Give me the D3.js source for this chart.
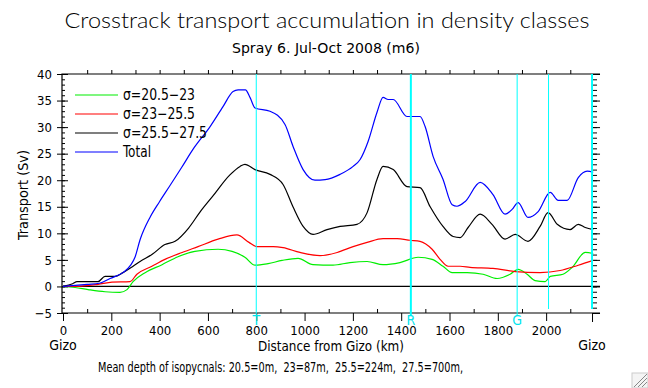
<!DOCTYPE html>
<html>
<head>
<meta charset="utf-8">
<script src="https://cdn.jsdelivr.net/npm/d3@7"></script>
<style>
  body { margin: 0; background: #fff; }
  svg { display: block; }
  text { font-family: "DejaVu Sans Condensed", "Liberation Sans Narrow", sans-serif; fill: #000; }
  .axis line { stroke: #000; }
  .head { font-family: Lato, "Open Sans", sans-serif; font-weight: 300; }
</style>
</head>
<body>
<svg width="648" height="388"></svg>
<script>
// [distance km, transport Sv]
const sigmaLow = [[0,0],[50,-0.2],[104,-0.6],[174,-1],[236,-1.1],[265,-0.6],[290,0.9],[340,2.6],[410,4.1],[476,5.6],[546,6.6],[642,7],[700,6.6],[753,5.5],[795,4],[849,4.3],[907,4.9],[973,5.3],[1035,4.1],[1118,4],[1188,4.5],[1259,4.7],[1325,4.1],[1395,4.5],[1470,5.5],[1528,5.1],[1573,3.8],[1611,2.6],[1673,2.6],[1739,2.3],[1797,1.5],[1851,2.3],[1884,3.2],[1921,2.3],[1954,1.1],[1996,0.9],[2017,1.9],[2070,2.3],[2108,3.6],[2162,6.4],[2195,6.2]];
const sigmaMid = [[0,0],[50,0],[145,0.4],[203,0.8],[277,0.9],[306,2.3],[368,3.8],[422,5.1],[493,6.4],[559,7.5],[642,8.9],[720,9.7],[770,8.3],[803,7.5],[870,7.5],[911,7.3],[981,6.4],[1064,5.8],[1135,6.4],[1201,7.5],[1259,8.3],[1325,9],[1383,9],[1437,8.7],[1478,8.5],[1528,7],[1561,5.1],[1594,3.8],[1644,3.8],[1685,3.6],[1780,3.4],[1872,2.8],[1975,2.6],[2058,3],[2133,4],[2195,4.9]];
const sigmaDeep = [[0,0],[40,0.5],[58,0.9],[145,0.9],[174,1.9],[215,1.9],[248,2.6],[290,3.8],[319,4.7],[368,6],[422,7.9],[464,8.5],[520,11],[567,14],[620,17],[691,21],[733,22.6],[753,23],[795,22],[857,21.1],[911,19.2],[952,15],[994,11.3],[1035,9.8],[1093,10.7],[1147,11.3],[1217,11.7],[1259,13.9],[1300,20.2],[1325,22.6],[1367,22],[1424,18.8],[1478,18.6],[1520,15],[1573,11.3],[1615,9.4],[1644,9.2],[1677,11.1],[1727,13.6],[1776,11.7],[1830,8.9],[1872,9.8],[1925,8.5],[1975,11.3],[2008,13.9],[2046,11.7],[2099,10.7],[2133,11.7],[2162,11.1],[2195,10.7]];
const total = [[0,0],[50,0.2],[100,0.4],[150,0.6],[195,1.5],[248,2.6],[280,4],[298,5.5],[319,8.8],[360,13],[400,16],[443,19],[491,22.4],[538,25.8],[609,30.1],[663,33.9],[704,36.7],[725,37],[755,37],[775,35.5],[795,33.6],[857,33],[919,30.5],[952,26.4],[994,22],[1043,20],[1085,20.1],[1147,21.1],[1201,22.6],[1230,23.9],[1263,27.3],[1300,32.8],[1325,35.6],[1346,35.2],[1367,35.2],[1424,32],[1478,32],[1499,30.1],[1532,24.5],[1573,20.2],[1611,15.4],[1631,15.1],[1665,16],[1727,19.6],[1780,17.3],[1830,13.6],[1859,14.5],[1884,15.8],[1925,13],[1967,14.1],[2017,17.7],[2050,16.2],[2087,16.2],[2133,20.5],[2170,21.7],[2195,21.5]];

const seriesNames = ['σ=20.5−23', 'σ=23−25.5', 'σ=25.5−27.5', 'Total'];
const seriesColors = ['#00ee00', '#ff0000', '#000000', '#0000ff'];
const seriesData = [sigmaLow, sigmaMid, sigmaDeep, total];

const sections = [
	{ km: 800, label: 'T', width: 1 },
	{ km: 1440, label: 'R', width: 2 },
	{ km: 1880, label: 'G', width: 1 },
	{ km: 2010, label: '', width: 1 },
	{ km: 2190, label: '', width: 2 }
];
const xTicks = d3.range(0, 2001, 200);
const yTicks = d3.range(-5, 41, 5);
const gizoKm = 2190;

const svg = d3.select('svg');

const x = d3.scaleLinear().domain([0, 2223]).range([63, 600]);
const y = d3.scaleLinear().domain([-5, 40]).range([313, 74]);

// squeeze a text to the width it has in the reference
function fit(sel, target) {
	return sel.attr('textLength', target).attr('lengthAdjust', 'spacingAndGlyphs');
}

// titles
fit(svg.append('text').attr('class', 'head').attr('x', 327).attr('y', 28).attr('text-anchor', 'middle')
	.attr('font-size', 22).text('Crosstrack transport accumulation in density classes'), 525);
fit(svg.append('text').attr('x', 326).attr('y', 53).attr('text-anchor', 'middle')
	.attr('font-size', 14).text('Spray 6. Jul-Oct 2008 (m6)'), 188);

// axes
const noLabel = () => '';
const plain = g => g.call(s => s.select('.domain').remove());
const labels = g => g.selectAll('text').attr('font-size', 13).attr('font-family', null);

svg.append('g').attr('class', 'axis').attr('transform', 'translate(0,313)')
	.call(d3.axisBottom(x).tickValues(xTicks).tickSize(8).tickPadding(5).tickFormat(d3.format('d')))
	.call(plain).call(labels);
svg.append('g').attr('class', 'axis').attr('transform', 'translate(0,313)')
	.call(d3.axisBottom(x).tickValues([gizoKm]).tickSize(9).tickFormat(noLabel)).call(plain);
svg.append('g').attr('class', 'axis').attr('transform', 'translate(0,313)')
	.call(d3.axisTop(x).tickValues(d3.range(100, 2200, 200)).tickSize(4).tickFormat(noLabel)).call(plain);
svg.append('g').attr('class', 'axis').attr('transform', 'translate(0,74)')
	.call(d3.axisTop(x).tickValues(d3.range(100, 2200, 100)).tickSize(4).tickFormat(noLabel)).call(plain);

svg.append('g').attr('class', 'axis').attr('transform', 'translate(62,0)')
	.call(d3.axisLeft(y).tickValues(yTicks).tickSize(5).tickPadding(5).tickFormat(d3.format('d')))
	.call(plain).call(labels);
svg.append('g').attr('class', 'axis').attr('transform', 'translate(62,0)')
	.call(d3.axisRight(y).tickValues(d3.range(-5, 41, 1)).tickSize(3).tickFormat(noLabel)).call(plain);
svg.append('g').attr('class', 'axis').attr('transform', 'translate(62,0)')
	.call(d3.axisRight(y).tickValues(yTicks).tickSize(6).tickFormat(noLabel)).call(plain);
svg.append('g').attr('class', 'axis').attr('transform', `translate(${x(gizoKm)},0)`)
	.call(d3.axisRight(y).tickValues(d3.range(-5, 41, 1)).tickSize(5).tickFormat(noLabel)).call(plain);
svg.append('g').attr('class', 'axis').attr('transform', `translate(${x(gizoKm)},0)`)
	.call(d3.axisRight(y).tickValues(yTicks).tickSize(8).tickFormat(noLabel)).call(plain);

// frame and zero line
const [x0, x1] = x.range();
svg.append('path').attr('fill', 'none').attr('stroke', '#000').attr('stroke-width', 1.2)
	.attr('d', `M${x1},${y(40)}H${x0 - 1}V${y(-5)}H${x1}`);
svg.append('line').attr('stroke', '#000').attr('stroke-width', 1.2)
	.attr('x1', x0).attr('x2', x1).attr('y1', y(0)).attr('y2', y(0));

// series
const line = d3.line().x(p => x(p[0])).y(p => y(p[1])).curve(d3.curveMonotoneX);
svg.append('g').selectAll('path').data(seriesData).join('path')
	.attr('fill', 'none')
	.attr('stroke', (s, i) => seriesColors[i])
	.attr('stroke-width', 1.2)
	.attr('d', line);

// section markers
svg.append('g').selectAll('line').data(sections).join('line')
	.attr('x1', s => x(s.km)).attr('x2', s => x(s.km))
	.attr('y1', y(40)).attr('y2', s => s.label ? y(-5) + 3 : y(-5) - 4)
	.attr('stroke', '#00ffff').attr('stroke-width', s => s.width);
svg.append('g').selectAll('text').data(sections.filter(s => s.label)).join('text')
	.attr('x', s => x(s.km)).attr('y', 325).attr('text-anchor', 'middle')
	.attr('font-size', 14).style('fill', '#00e5ee').text(s => s.label);

// legend
const legendY = [95, 114, 133, 152];
const legendW = [72, 72, 84, 28];
const legend = svg.append('g').selectAll('g').data(seriesNames).join('g')
	.attr('transform', (s, i) => `translate(0,${legendY[i]})`);
legend.append('line').attr('x1', 75).attr('x2', 118)
	.attr('stroke', (s, i) => seriesColors[i]).attr('stroke-width', 1.2);
legend.append('text').attr('x', 123).attr('dy', '0.36em').attr('font-size', 15)
	.attr('textLength', (s, i) => legendW[i]).attr('lengthAdjust', 'spacingAndGlyphs')
	.text(s => s);

// axis titles
fit(svg.append('text').attr('transform', 'rotate(-90)').attr('x', -195).attr('y', 28)
	.attr('text-anchor', 'middle').attr('font-size', 14).text('Transport (Sv)'), 90);
fit(svg.append('text').attr('x', 331).attr('y', 351).attr('text-anchor', 'middle')
	.attr('font-size', 14).text('Distance from Gizo (km)'), 146);
svg.append('g').selectAll('text').data([0, gizoKm]).join('text')
	.attr('x', k => x(k)).attr('y', 350).attr('text-anchor', 'middle')
	.attr('font-size', 14).text('Gizo');
fit(svg.append('text').attr('x', 98).attr('y', 372).attr('font-size', 14)
	.text('Mean depth of isopycnals: 20.5=0m,\u00a0 23=87m,\u00a0 25.5=224m,\u00a0 27.5=700m,'), 365);

// window resize grip
const grip = svg.append('g').attr('transform', 'translate(632,373)');
grip.append('rect').attr('width', 16).attr('height', 15).attr('fill', '#f4f4f4').attr('stroke', '#ccc');
grip.selectAll('line').data([5, 9, 13]).join('line')
	.attr('x1', k => 15 - k).attr('y1', 14).attr('x2', 15).attr('y2', k => 14 - k)
	.attr('stroke', '#888');
</script>
</body>
</html>
